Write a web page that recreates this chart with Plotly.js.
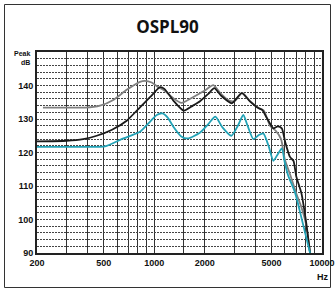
<!DOCTYPE html>
<html><head><meta charset="utf-8">
<script src="https://cdn.plot.ly/plotly-3.0.1.min.js"></script>
<style>html,body{margin:0;padding:0;background:#fff}#c{width:335px;height:293px}</style>
</head><body><div id="c"></div>
<script>
const grayFreq = [217,300,387,475,570,685,822,880,966,1058,1150,1300,1450,1700,2000,2250,2500,2800,3000,3350,3700,4200,4500,4900,5300,5700,6000,6500,7000,7500,8000,8500];
const grayVal  = [133.4,133.4,133.4,134.0,135.7,138.7,141.1,141.4,140.9,139.5,138.5,136.2,134.8,136.5,138.5,140.1,137.5,135.5,135.3,137.8,135.5,133.3,132.5,128.0,126.5,124.0,118.0,113.0,108.0,104.0,99.0,90.0];
const blackFreq = [200,300,377,454,560,685,822,943,1084,1150,1300,1500,1700,1874,2100,2280,2500,2900,3320,3730,4190,4400,4700,5130,5450,5760,6030,6440,6760,7030,7540,8000,8490];
const blackVal  = [123.3,123.5,124.0,125.0,126.8,129.5,133.5,136.5,139.5,139.0,135.5,132.5,134.0,135.3,137.5,139.2,137.0,134.7,137.7,135.2,133.2,132.7,130.2,127.2,127.8,127.2,123.2,118.7,117.5,112.8,107.8,100.0,90.0];
const tealFreq = [200,300,400,508,655,822,923,1035,1117,1200,1300,1450,1585,1860,2100,2313,2550,2880,3150,3397,3600,3900,4200,4470,4800,5130,5450,5760,6000,6270,6930,7500,8490];
const tealVal  = [121.7,121.7,121.7,121.8,124.2,126.2,128.7,131.2,131.7,130.5,127.7,124.8,124.2,125.8,128.5,130.7,127.5,125.0,128.0,131.2,128.0,124.0,125.2,125.7,122.0,117.5,119.5,121.2,117.0,113.3,107.8,101.0,90.0];
const xGrid = [200,300,400,500,600,700,800,900,1000,1500,2000,3000,4000,5000,6000,7000,8000,9000,10000];
const xLabels = {200:'200',500:'500',1000:'1000',2000:'2000',5000:'5000',10000:'10000'};
const yLabels = [90,100,110,120,130,140];
const yGrid = []; for (let v = 90; v <= 150; v += 2) yGrid.push(v);

const lab = s => '<b>' + s + '</b>';
const traces = [
  {x: grayFreq, y: grayVal, mode:'lines', line:{color:'#808080', width:1.8, shape:'spline', smoothing:0.6}},
  {x: blackFreq, y: blackVal, mode:'lines', line:{color:'#1a1a1a', width:1.8, shape:'spline', smoothing:0.6}},
  {x: tealFreq, y: tealVal, mode:'lines', line:{color:'#22a2b6', width:1.8, shape:'spline', smoothing:0.6}}
];
const L = 37, R = 322, T = 52, B = 253, W = 335, H = 293;
const pw = R - L, ph = B - T;
const lf = {family: 'Liberation Sans Narrow, Liberation Sans', size: 9, color: '#111'};
const layout = {
  width: W, height: H,
  margin: {l: L, r: W - R, t: T, b: H - B, pad: 0},
  paper_bgcolor: '#fff', plot_bgcolor: '#fff',
  showlegend: false,
  title: {text: '<b>OSPL90</b>', font: {family: 'Open Sans', size: 17, color: '#111'},
          x: 0.5, xanchor: 'center', xref: 'container', y: 1 - 27/H, yanchor: 'middle', yref: 'container'},
  xaxis: {type: 'log', range: [Math.log10(200), Math.log10(10000)],
          tickvals: xGrid, ticktext: xGrid.map(v => xLabels[v] ? lab(xLabels[v]) : ''),
          tickfont: lf,
          showgrid: true, gridcolor: '#333', gridwidth: 1, ticks: '',
          showline: true, mirror: true, linecolor: '#222', linewidth: 2, zeroline: false, fixedrange: true},
  yaxis: {range: [90, 150], tickvals: yGrid,
          ticktext: yGrid.map(v => yLabels.includes(v) ? lab(String(v)) : ''),
          tickfont: lf,
          showgrid: true, gridcolor: '#444', gridwidth: 1, griddash: '2px,1px', ticks: '',
          showline: true, mirror: true, linecolor: '#222', linewidth: 2, zeroline: false, fixedrange: true},
  annotations: [
    {text: lab('Peak'), xref: 'paper', yref: 'paper', x: (32 - L)/pw, y: (B - 54)/ph, xanchor: 'right', yanchor: 'middle', showarrow: false,
     font: {family: 'Liberation Sans Narrow, Liberation Sans', size: 7, color: '#111'}},
    {text: lab('dB'), xref: 'paper', yref: 'paper', x: (32 - L)/pw, y: (B - 63)/ph, xanchor: 'right', yanchor: 'middle', showarrow: false,
     font: {family: 'Liberation Sans Narrow, Liberation Sans', size: 7, color: '#111'}},
    {text: lab('Hz'), xref: 'paper', yref: 'paper', x: (323 - L)/pw, y: (B - 277)/ph, xanchor: 'center', yanchor: 'middle', showarrow: false,
     font: lf}
  ],
  shapes: [
    {type: 'rect', xref: 'paper', yref: 'paper', x0: (4.5 - L)/pw, x1: (330.5 - L)/pw, y0: (B - 287.5)/ph, y1: (B - 4.5)/ph,
     line: {color: '#333', width: 1}, fillcolor: 'rgba(0,0,0,0)', layer: 'below'}
  ]
};
Plotly.newPlot('c', traces, layout, {displayModeBar: false, staticPlot: true});
</script></body></html>
